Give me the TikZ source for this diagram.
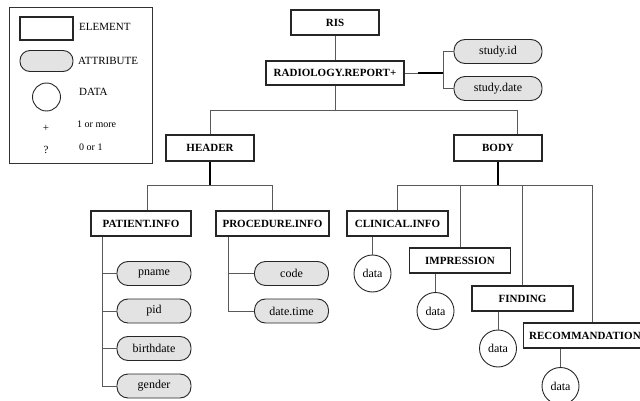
\documentclass[tikz,border=0pt]{standalone}
\usepackage{fontspec}
\setmainfont{Liberation Serif}
\usetikzlibrary{calc}

\tikzset{
	element/.style = {draw = black!85, line width = 1.2pt, font = \bfseries\fontsize{11}{13}\selectfont, minimum height = 25pt, inner xsep = 6pt, inner ysep = 0pt},
	attribute/.style = {draw = black!85, line width = 0.9pt, fill = black!11, rounded corners = 11pt, font = \fontsize{12}{14}\selectfont, minimum width = 74pt, minimum height = 24pt, inner sep = 0pt},
	datacircle/.style = {draw = black!85, line width = 0.9pt, circle, minimum size = 37pt, inner sep = 0pt, font = \fontsize{12}{14}\selectfont},
	link/.style = {draw = black!65, line width = 0.8pt},
	trunk/.style = {draw = black, line width = 1.8pt},
	legendtext/.style = {anchor = west, inner sep = 0pt, font = \fontsize{11}{13}\selectfont},
}

\begin{document}
\begin{tikzpicture}[x = 1pt, y = -1pt]
		\useasboundingbox (0,0) rectangle (640,401);
		
		\draw [line width = 0.9pt, draw = black!80] (9,7) rectangle (152,163);
		\node [element, line width = 2pt, minimum width = 53pt, minimum height = 23pt] (key element) at (46.5,29) {};
		\node [attribute, minimum width = 53pt, minimum height = 21pt, rounded corners = 10pt] (key attribute) at (46.5,61) {};
		\node [datacircle, minimum size = 28pt] (key data) at (46.5,97) {};
		\node [legendtext] (key element text) at (79,27) {ELEMENT};
		\node [legendtext] (key attribute text) at (78,61) {ATTRIBUTE};
		\node [legendtext] (key data text) at (79,92) {DATA};
		\node [font = \fontsize{11}{13}\selectfont] (key plus) at (46,128) {+};
		\node [font = \fontsize{11}{13}\selectfont] (key option) at (46,150) {?};
		\node [legendtext, font = \fontsize{10}{12}\selectfont] (key plus text) at (77,124) {1 or more};
		\node [legendtext, font = \fontsize{10}{12}\selectfont] (key option text) at (79,147) {0 or 1};
		
		\node [element, minimum width = 88pt] (ris) at (335,22.5) {RIS};
		\node [element, minimum width = 138pt, minimum height = 24pt] (report) at (335,73) {RADIOLOGY.REPORT+};
		\node [attribute, minimum width = 88pt] (study id) at (498,51.5) {study.id};
		\node [attribute, minimum width = 88pt] (study date) at (498,88.5) {study.date};
		
		\node [element, minimum width = 88pt, minimum height = 26pt] (header) at (210,148) {HEADER};
		\node [element, minimum width = 88pt, minimum height = 26pt] (body) at (498,148) {BODY};
		
		\node [element, minimum width = 100pt] (patient) at (141,223.5) {PATIENT.INFO};
		\node [element, minimum width = 113pt] (procedure) at (272.5,223.5) {PROCEDURE.INFO};
		\node [element, minimum width = 101pt] (clinical) at (397.5,223.5) {CLINICAL.INFO};
		\node [element, minimum width = 101pt] (impression) at (460,260.5) {IMPRESSION};
		\node [element, minimum width = 101pt] (finding) at (522.5,298.5) {FINDING};
		\node [element, anchor = west] (recommandation) at (522.5,335.5) {RECOMMANDATION};
		
		\node [attribute] (pname) at (154,273.5) {pname};
		\node [attribute] (pid) at (154,311) {pid};
		\node [attribute] (birthdate) at (154,348.5) {birthdate};
		\node [attribute] (gender) at (154,386) {gender};
		\node [attribute] (code) at (291.5,273.5) {code};
		\node [attribute] (date time) at (291.5,311) {date.time};
		
		\node [datacircle] (data clinical) at (372.5,273.5) {data};
		\node [datacircle] (data impression) at (435.5,311) {data};
		\node [datacircle] (data finding) at (498,348.5) {data};
		\node [datacircle] (data recommandation) at (560.5,386) {data};
		
		\draw [link] (ris) -- (report);
		\draw [link] (report.south) -- ++(0,25) coordinate (report split);
		\draw [link] (header.north) |- (report split) -| ([xshift = 19pt]body.north);
		
		\draw [link] (report.east) -- ++(13,0) coordinate (study join);
		\draw [trunk] (study join) -- ++(26,0) coordinate (study bar);
		\draw [link] (study id.west) -| (study bar) |- (study date.west);
		
		\draw [trunk] (header.south) -- ++(0,24) coordinate (header split);
		\draw [link] ([xshift = 6pt]patient.north) |- (header split) -| (procedure.north);
		
		\coordinate (patient bar) at ([xshift = 12pt]patient.south west);
		\draw [link] (patient bar) |- (gender.west);
		\foreach \f in {pname, pid, birthdate}
			\draw [link] (\f.west) -- (\f.west -| patient bar);
		
		\coordinate (procedure bar) at ([xshift = 13pt]procedure.south west);
		\draw [link] (procedure bar) |- (date time.west);
		\draw [link] (code.west) -- (code.west -| procedure bar);
		
		\draw [trunk] (body.south) -- ++(0,24) coordinate (body split);
		\draw [link] (clinical.north) |- (body split) -| ([xshift = 70pt]recommandation.north west);
		\draw [link] (impression.north) -- (impression.north |- body split);
		\draw [link] (finding.north) -- (finding.north |- body split);
		
		\foreach \e in {clinical, impression, finding, recommandation}
			\draw [link] (data \e.north) -- (data \e.north |- \e.south);
	\end{tikzpicture}
\end{document}
